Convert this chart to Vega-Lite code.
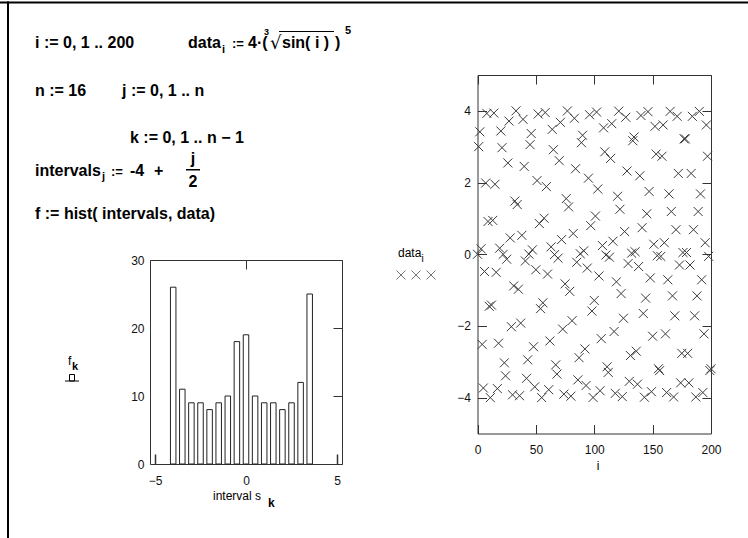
{
  "$schema": "https://vega.github.io/schema/vega-lite/v6.json",
  "width": 748,
  "height": 538,
  "autosize": "none",
  "padding": 0,
  "background": "white",
  "config": {"view": {"stroke": null}, "font": "Liberation Sans",
    "axis": {"grid": false, "domainColor": "#333", "tickColor": "#333", "domainWidth": 1, "tickWidth": 1, "labelFont": "Liberation Sans", "labelFontSize": 12, "labelColor": "#111", "labelFlush": false, "labelOverlap": false, "title": null}},
  "datasets": {
    "hist": [
      {"interval": -4, "f": 26}, {"interval": -3.5, "f": 11}, {"interval": -3, "f": 9}, {"interval": -2.5, "f": 9},
      {"interval": -2, "f": 8}, {"interval": -1.5, "f": 9}, {"interval": -1, "f": 10}, {"interval": -0.5, "f": 18},
      {"interval": 0, "f": 19}, {"interval": 0.5, "f": 10}, {"interval": 1, "f": 9}, {"interval": 1.5, "f": 9},
      {"interval": 2, "f": 8}, {"interval": 2.5, "f": 9}, {"interval": 3, "f": 12}, {"interval": 3.5, "f": 25}
    ],
    "data": [
      {"i":0,"data":0},{"i":1,"data":3.001},{"i":2,"data":3.415},{"i":3,"data":0.153},{"i":4,"data":-2.515},
      {"i":5,"data":-3.731},{"i":6,"data":-0.48},{"i":7,"data":1.987},{"i":8,"data":3.929},{"i":9,"data":0.914},
      {"i":10,"data":-1.451},{"i":11,"data":-4.0},{"i":12,"data":-1.419},{"i":13,"data":0.945},{"i":14,"data":3.938},
      {"i":15,"data":1.953},{"i":16,"data":-0.504},{"i":17,"data":-3.747},{"i":18,"data":-2.482},{"i":19,"data":0.169},
      {"i":20,"data":3.438},{"i":21,"data":2.973},{"i":22,"data":-0.002},{"i":23,"data":-3.029},{"i":24,"data":-3.391},
      {"i":25,"data":-0.138},{"i":26,"data":2.547},{"i":27,"data":3.714},{"i":28,"data":0.456},{"i":29,"data":-2.021},
      {"i":30,"data":-3.921},{"i":31,"data":-0.884},{"i":32,"data":1.484},{"i":33,"data":4.0},{"i":34,"data":1.386},
      {"i":35,"data":-0.975},{"i":36,"data":-3.946},{"i":37,"data":-1.92},{"i":38,"data":0.528},{"i":39,"data":3.763},
      {"i":40,"data":2.45},{"i":41,"data":-0.187},{"i":42,"data":-3.461},{"i":43,"data":-2.944},{"i":44,"data":0.005},
      {"i":45,"data":3.057},{"i":46,"data":3.368},{"i":47,"data":0.123},{"i":48,"data":-2.58},{"i":49,"data":-3.698},
      {"i":50,"data":-0.432},{"i":51,"data":2.055},{"i":52,"data":3.911},{"i":53,"data":0.855},{"i":54,"data":-1.518},
      {"i":55,"data":-3.998},{"i":56,"data":-1.354},{"i":57,"data":1.005},{"i":58,"data":3.953},{"i":59,"data":1.887},
      {"i":60,"data":-0.553},{"i":61,"data":-3.778},{"i":62,"data":-2.419},{"i":63,"data":0.206},{"i":64,"data":3.483},
      {"i":65,"data":2.916},{"i":66,"data":-0.01},{"i":67,"data":-3.085},{"i":68,"data":-3.343},{"i":69,"data":-0.109},
      {"i":70,"data":2.611},{"i":71,"data":3.679},{"i":72,"data":0.408},{"i":73,"data":-2.088},{"i":74,"data":-3.902},
      {"i":75,"data":-0.826},{"i":76,"data":1.551},{"i":77,"data":3.997},{"i":78,"data":1.321},{"i":79,"data":-1.035},
      {"i":80,"data":-3.959},{"i":81,"data":-1.853},{"i":82,"data":0.579},{"i":83,"data":3.793},{"i":84,"data":2.386},
      {"i":85,"data":-0.224},{"i":86,"data":-3.504},{"i":87,"data":-2.886},{"i":88,"data":0.015},{"i":89,"data":3.112},
      {"i":90,"data":3.319},{"i":91,"data":0.095},{"i":92,"data":-2.642},{"i":93,"data":-3.661},{"i":94,"data":-0.385},
      {"i":95,"data":2.122},{"i":96,"data":3.891},{"i":97,"data":0.798},{"i":98,"data":-1.585},{"i":99,"data":-3.995},
      {"i":100,"data":-1.288},{"i":101,"data":1.065},{"i":102,"data":3.966},{"i":103,"data":1.819},{"i":104,"data":-0.606},
      {"i":105,"data":-3.807},{"i":106,"data":-2.354},{"i":107,"data":0.242},{"i":108,"data":3.526},{"i":109,"data":2.856},
      {"i":110,"data":-0.022},{"i":111,"data":-3.14},{"i":112,"data":-3.295},{"i":113,"data":-0.082},{"i":114,"data":2.673},
      {"i":115,"data":3.643},{"i":116,"data":0.364},{"i":117,"data":-2.155},{"i":118,"data":-3.88},{"i":119,"data":-0.769},
      {"i":120,"data":1.618},{"i":121,"data":3.992},{"i":122,"data":1.255},{"i":123,"data":-1.097},{"i":124,"data":-3.971},
      {"i":125,"data":-1.785},{"i":126,"data":0.632},{"i":127,"data":3.821},{"i":128,"data":2.321},{"i":129,"data":-0.26},
      {"i":130,"data":-3.546},{"i":131,"data":-2.826},{"i":132,"data":0.03},{"i":133,"data":3.167},{"i":134,"data":3.27},
      {"i":135,"data":0.07},{"i":136,"data":-2.704},{"i":137,"data":-3.625},{"i":138,"data":-0.343},{"i":139,"data":2.188},
      {"i":140,"data":3.869},{"i":141,"data":0.741},{"i":142,"data":-1.651},{"i":143,"data":-3.989},{"i":144,"data":-1.223},
      {"i":145,"data":1.129},{"i":146,"data":3.977},{"i":147,"data":1.751},{"i":148,"data":-0.659},{"i":149,"data":-3.834},
      {"i":150,"data":-2.287},{"i":151,"data":0.279},{"i":152,"data":3.567},{"i":153,"data":2.795},{"i":154,"data":-0.039},
      {"i":155,"data":-3.193},{"i":156,"data":-3.245},{"i":157,"data":-0.059},{"i":158,"data":2.734},{"i":159,"data":3.606},
      {"i":160,"data":0.322},{"i":161,"data":-2.221},{"i":162,"data":-3.857},{"i":163,"data":-0.712},{"i":164,"data":1.684},
      {"i":165,"data":3.985},{"i":166,"data":1.192},{"i":167,"data":-1.161},{"i":168,"data":-3.981},{"i":169,"data":-1.717},
      {"i":170,"data":0.685},{"i":171,"data":3.847},{"i":172,"data":2.254},{"i":173,"data":-0.3},{"i":174,"data":-3.587},
      {"i":175,"data":-2.764},{"i":176,"data":0.048},{"i":177,"data":3.219},{"i":178,"data":3.219},{"i":179,"data":0.048},
      {"i":180,"data":-2.764},{"i":181,"data":-3.587},{"i":182,"data":-0.3},{"i":183,"data":2.254},{"i":184,"data":3.847},
      {"i":185,"data":0.685},{"i":186,"data":-1.717},{"i":187,"data":-3.981},{"i":188,"data":-1.161},{"i":189,"data":1.192},
      {"i":190,"data":3.985},{"i":191,"data":1.684},{"i":192,"data":-0.712},{"i":193,"data":-3.857},{"i":194,"data":-2.221},
      {"i":195,"data":0.322},{"i":196,"data":3.606},{"i":197,"data":2.734},{"i":198,"data":-0.059},{"i":199,"data":-3.245},
      {"i":200,"data":-3.193}
    ]
  },
  "layer": [
    {"data": {"values": [{}]}, "mark": {"type": "rect", "x": 0, "x2": 748, "y": 1.5, "y2": 3.5, "fill": "black"}, "encoding": {}},
    {"data": {"values": [{}]}, "mark": {"type": "rect", "x": 7, "x2": 9, "y": 1.5, "y2": 538, "fill": "black"}, "encoding": {}},

    {"data": {"name": "hist"},
     "mark": {"type": "bar", "orient": "vertical", "size": 5.5, "fill": "white", "stroke": "#222", "strokeWidth": 1},
     "encoding": {
       "x": {"field": "interval", "type": "quantitative", "scale": {"domain": [-5, 5], "range": [150, 342], "nice": false, "zero": false},
             "axis": {"orient": "bottom", "offset": -74, "values": [-5, 0, 5], "tickSize": -10, "tickWidth": 1.5, "labelPadding": 21}},
       "y": {"field": "f", "type": "quantitative", "scale": {"domain": [0, 30], "range": [464, 260], "nice": false},
             "axis": {"orient": "left", "offset": -150, "values": [0, 10, 20, 30], "ticks": false, "labelPadding": 6}}
     }},
    {"data": {"name": "hist"},
     "mark": {"type": "point", "opacity": 0},
     "encoding": {
       "x": {"field": "interval", "type": "quantitative", "scale": {"domain": [-5, 5], "range": [150, 342], "nice": false, "zero": false},
             "axis": {"orient": "top", "offset": -260, "values": [-5, 0, 5], "tickSize": -9, "labels": false}},
       "y": {"field": "f", "type": "quantitative", "scale": {"domain": [0, 30], "range": [464, 260], "nice": false},
             "axis": {"orient": "right", "offset": -406, "values": [0, 10, 20, 30], "tickSize": -9, "labels": false}}
     }},

    {"data": {"name": "data"},
     "mark": {"type": "point", "shape": "M-1,-1L1,1M-1,1L1,-1", "size": 81, "filled": false, "stroke": "#3a3a3a", "strokeWidth": 1, "opacity": 1},
     "encoding": {
       "x": {"field": "i", "type": "quantitative", "scale": {"domain": [0, 200], "range": [477.5, 711], "nice": false, "zero": false},
             "axis": {"orient": "bottom", "offset": -104.5, "values": [0, 50, 100, 150, 200], "tickSize": -9, "labelPadding": 20}},
       "y": {"field": "data", "type": "quantitative", "scale": {"domain": [-5, 5], "range": [433.5, 75], "nice": false, "zero": false},
             "axis": {"orient": "left", "offset": -477.5, "values": [-4, -2, 0, 2, 4], "tickSize": -9, "labelPadding": 16}}
     }},
    {"data": {"name": "data"},
     "mark": {"type": "point", "opacity": 0},
     "encoding": {
       "x": {"field": "i", "type": "quantitative", "scale": {"domain": [0, 200], "range": [477.5, 711], "nice": false, "zero": false},
             "axis": {"orient": "top", "offset": -75, "values": [0, 50, 100, 150, 200], "tickSize": -9, "labels": false}},
       "y": {"field": "data", "type": "quantitative", "scale": {"domain": [-5, 5], "range": [433.5, 75], "nice": false, "zero": false},
             "axis": {"orient": "right", "offset": -37, "values": [-4, -2, 0, 2, 4], "tickSize": -9, "labels": false}}
     }},

    {"data": {"values": [{}]}, "mark": {"type": "text", "x": 35, "y": 48, "text": "i := 0, 1 .. 200", "align": "left", "baseline": "alphabetic", "font": "Liberation Sans", "fontWeight": "bold", "fontSize": 16, "fill": "black"}, "encoding": {}},
    {"data": {"values": [{}]}, "mark": {"type": "text", "x": 188, "y": 48, "text": "data", "align": "left", "baseline": "alphabetic", "font": "Liberation Sans", "fontWeight": "bold", "fontSize": 16, "fill": "black"}, "encoding": {}},
    {"data": {"values": [{}]}, "mark": {"type": "text", "x": 222, "y": 53, "text": "i", "align": "left", "baseline": "alphabetic", "font": "Liberation Sans", "fontWeight": "bold", "fontSize": 11, "fill": "black"}, "encoding": {}},
    {"data": {"values": [{}]}, "mark": {"type": "text", "x": 232, "y": 48, "text": ":=", "align": "left", "baseline": "alphabetic", "font": "Liberation Sans", "fontWeight": "bold", "fontSize": 13, "fill": "black"}, "encoding": {}},
    {"data": {"values": [{}]}, "mark": {"type": "text", "x": 248, "y": 48, "text": "4·(", "align": "left", "baseline": "alphabetic", "font": "Liberation Sans", "fontWeight": "bold", "fontSize": 16, "fill": "black"}, "encoding": {}},
    {"data": {"values": [{}]}, "mark": {"type": "text", "x": 264, "y": 35, "text": "3", "align": "left", "baseline": "alphabetic", "font": "Liberation Sans", "fontWeight": "bold", "fontSize": 9, "fill": "black"}, "encoding": {}},
    {"data": {"values": [{}]}, "mark": {"type": "text", "x": 270, "y": 49, "text": "√", "align": "left", "baseline": "alphabetic", "font": "DejaVu Sans", "fontSize": 18, "fill": "black"}, "encoding": {}},
    {"data": {"values": [{}]}, "mark": {"type": "rect", "x": 279, "x2": 334, "y": 31, "y2": 32, "fill": "black"}, "encoding": {}},
    {"data": {"values": [{}]}, "mark": {"type": "text", "x": 282, "y": 48, "text": "sin( i )", "align": "left", "baseline": "alphabetic", "font": "Liberation Sans", "fontWeight": "bold", "fontSize": 16, "fill": "black"}, "encoding": {}},
    {"data": {"values": [{}]}, "mark": {"type": "text", "x": 335, "y": 48, "text": ")", "align": "left", "baseline": "alphabetic", "font": "Liberation Sans", "fontWeight": "bold", "fontSize": 16, "fill": "black"}, "encoding": {}},
    {"data": {"values": [{}]}, "mark": {"type": "text", "x": 345, "y": 34, "text": "5", "align": "left", "baseline": "alphabetic", "font": "Liberation Sans", "fontWeight": "bold", "fontSize": 11, "fill": "black"}, "encoding": {}},

    {"data": {"values": [{}]}, "mark": {"type": "text", "x": 35, "y": 96, "text": "n := 16", "align": "left", "baseline": "alphabetic", "font": "Liberation Sans", "fontWeight": "bold", "fontSize": 16, "fill": "black"}, "encoding": {}},
    {"data": {"values": [{}]}, "mark": {"type": "text", "x": 122, "y": 96, "text": "j := 0, 1 .. n", "align": "left", "baseline": "alphabetic", "font": "Liberation Sans", "fontWeight": "bold", "fontSize": 16, "fill": "black"}, "encoding": {}},
    {"data": {"values": [{}]}, "mark": {"type": "text", "x": 130, "y": 143, "text": "k := 0, 1 .. n − 1", "align": "left", "baseline": "alphabetic", "font": "Liberation Sans", "fontWeight": "bold", "fontSize": 16, "fill": "black"}, "encoding": {}},

    {"data": {"values": [{}]}, "mark": {"type": "text", "x": 35, "y": 176, "text": "intervals", "align": "left", "baseline": "alphabetic", "font": "Liberation Sans", "fontWeight": "bold", "fontSize": 16, "fill": "black"}, "encoding": {}},
    {"data": {"values": [{}]}, "mark": {"type": "text", "x": 102, "y": 180, "text": "j", "align": "left", "baseline": "alphabetic", "font": "Liberation Sans", "fontWeight": "bold", "fontSize": 11, "fill": "black"}, "encoding": {}},
    {"data": {"values": [{}]}, "mark": {"type": "text", "x": 111, "y": 176, "text": ":=", "align": "left", "baseline": "alphabetic", "font": "Liberation Sans", "fontWeight": "bold", "fontSize": 13, "fill": "black"}, "encoding": {}},
    {"data": {"values": [{}]}, "mark": {"type": "text", "x": 130, "y": 176, "text": "-4", "align": "left", "baseline": "alphabetic", "font": "Liberation Sans", "fontWeight": "bold", "fontSize": 16, "fill": "black"}, "encoding": {}},
    {"data": {"values": [{}]}, "mark": {"type": "text", "x": 154, "y": 176, "text": "+", "align": "left", "baseline": "alphabetic", "font": "Liberation Sans", "fontWeight": "bold", "fontSize": 16, "fill": "black"}, "encoding": {}},
    {"data": {"values": [{}]}, "mark": {"type": "text", "x": 193, "y": 164, "text": "j", "align": "center", "baseline": "alphabetic", "font": "Liberation Sans", "fontWeight": "bold", "fontSize": 16, "fill": "black"}, "encoding": {}},
    {"data": {"values": [{}]}, "mark": {"type": "rect", "x": 186, "x2": 200, "y": 169, "y2": 170.5, "fill": "black"}, "encoding": {}},
    {"data": {"values": [{}]}, "mark": {"type": "text", "x": 193, "y": 187, "text": "2", "align": "center", "baseline": "alphabetic", "font": "Liberation Sans", "fontWeight": "bold", "fontSize": 16, "fill": "black"}, "encoding": {}},
    {"data": {"values": [{}]}, "mark": {"type": "text", "x": 35, "y": 219, "text": "f := hist( intervals, data)", "align": "left", "baseline": "alphabetic", "font": "Liberation Sans", "fontWeight": "bold", "fontSize": 16, "fill": "black"}, "encoding": {}},

    {"data": {"values": [{}]}, "mark": {"type": "text", "x": 68, "y": 365, "text": "f", "align": "left", "baseline": "alphabetic", "font": "Liberation Sans", "fontSize": 12, "fill": "black"}, "encoding": {}},
    {"data": {"values": [{}]}, "mark": {"type": "text", "x": 72, "y": 370, "text": "k", "align": "left", "baseline": "alphabetic", "font": "Liberation Sans", "fontWeight": "bold", "fontSize": 11, "fill": "black"}, "encoding": {}},
    {"data": {"values": [{}]}, "mark": {"type": "rect", "x": 69.5, "x2": 74.5, "y": 374.5, "y2": 381, "fill": "white", "stroke": "black", "strokeWidth": 1}, "encoding": {}},
    {"data": {"values": [{}]}, "mark": {"type": "rect", "x": 65, "x2": 79, "y": 380.5, "y2": 381.5, "fill": "black"}, "encoding": {}},
    {"data": {"values": [{}]}, "mark": {"type": "text", "x": 213, "y": 500, "text": "interval s", "align": "left", "baseline": "alphabetic", "font": "Liberation Sans", "fontSize": 12, "fill": "black"}, "encoding": {}},
    {"data": {"values": [{}]}, "mark": {"type": "text", "x": 268, "y": 507, "text": "k", "align": "left", "baseline": "alphabetic", "font": "Liberation Sans", "fontWeight": "bold", "fontSize": 12, "fill": "black"}, "encoding": {}},

    {"data": {"values": [{}]}, "mark": {"type": "text", "x": 398, "y": 257, "text": "data", "align": "left", "baseline": "alphabetic", "font": "Liberation Sans", "fontSize": 12, "fill": "black"}, "encoding": {}},
    {"data": {"values": [{}]}, "mark": {"type": "text", "x": 421.5, "y": 262, "text": "i", "align": "left", "baseline": "alphabetic", "font": "Liberation Sans", "fontSize": 10, "fill": "black"}, "encoding": {}},
    {"data": {"values": [{}]}, "mark": {"type": "point", "x": 401, "y": 275, "shape": "M-1,-1L1,1M-1,1L1,-1", "size": 81, "filled": false, "stroke": "#3a3a3a", "strokeWidth": 1}, "encoding": {}},
    {"data": {"values": [{}]}, "mark": {"type": "point", "x": 416, "y": 275, "shape": "M-1,-1L1,1M-1,1L1,-1", "size": 81, "filled": false, "stroke": "#3a3a3a", "strokeWidth": 1}, "encoding": {}},
    {"data": {"values": [{}]}, "mark": {"type": "point", "x": 431, "y": 275, "shape": "M-1,-1L1,1M-1,1L1,-1", "size": 81, "filled": false, "stroke": "#3a3a3a", "strokeWidth": 1}, "encoding": {}},
    {"data": {"values": [{}]}, "mark": {"type": "text", "x": 598, "y": 470, "text": "i", "align": "center", "baseline": "alphabetic", "font": "Liberation Sans", "fontSize": 12, "fill": "black"}, "encoding": {}}
  ],
  "resolve": {"scale": {"x": "independent", "y": "independent"}, "axis": {"x": "independent", "y": "independent"}}
}
